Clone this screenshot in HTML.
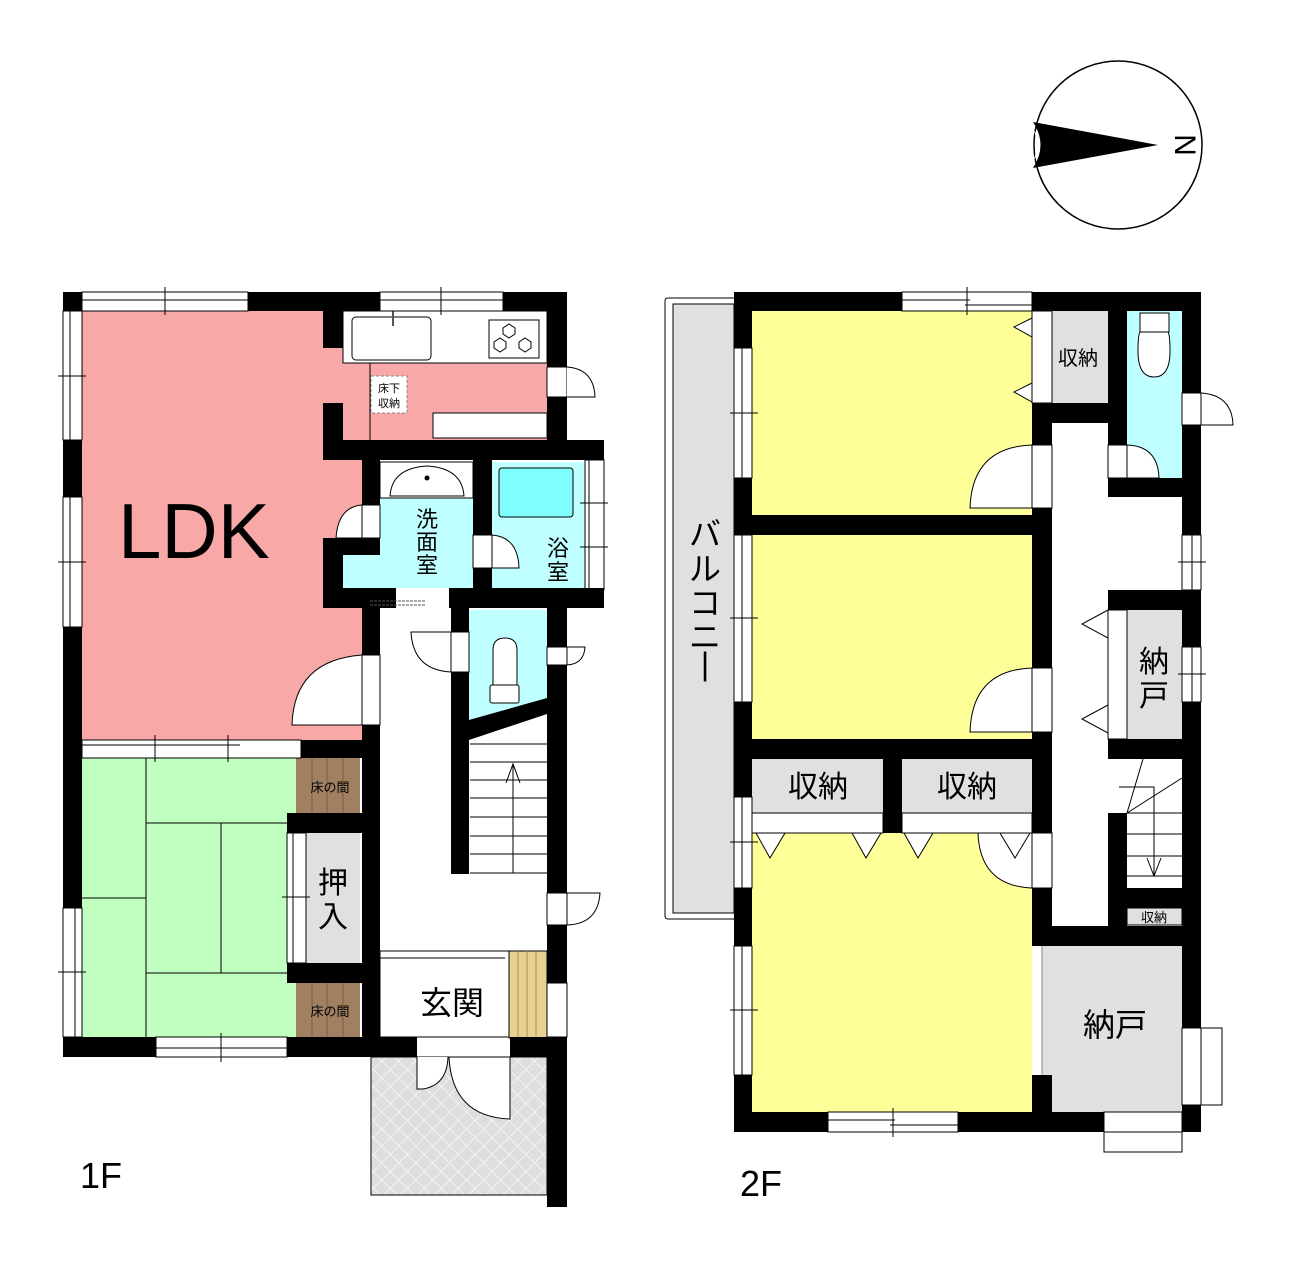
<!DOCTYPE html>
<html><head><meta charset="utf-8"><style>
html,body{margin:0;padding:0;background:#fff}
svg{display:block}
text{font-family:"Liberation Sans","Noto Sans CJK JP",sans-serif}
</style></head><body>
<svg width="1293" height="1264" viewBox="0 0 1293 1264" xmlns="http://www.w3.org/2000/svg">
<defs>
<pattern id="hx" width="12" height="12" patternUnits="userSpaceOnUse" patternTransform="rotate(45)">
<rect width="12" height="12" fill="#dedede"/>
<path d="M0 0H12M0 0V12" stroke="#fff" stroke-width="1.2"/>
</pattern>
</defs>

<!-- ================= COMPASS ================= -->
<circle cx="1118" cy="145" r="84" fill="#fff" stroke="#000" stroke-width="1.5"/>
<path d="M1033 122 L1158 145 L1033 168 Q1048 145 1033 122Z" fill="#000"/>
<path d="M1033 128 Q1044 145 1033 162 Q1040 145 1033 128Z" fill="#fff"/>
<text x="1183" y="145" font-size="30" transform="rotate(90 1183 145)" text-anchor="middle" dominant-baseline="middle">N</text>

<!-- ================= 1F ================= -->
<path d="M82 311 H323 V348 H343 V363 H547 V440 H362 V740 H82Z" fill="#f9a8a8"/>
<rect x="343" y="311" width="204" height="52" fill="#fff" stroke="#000" stroke-width="1"/>
<rect x="352" y="317" width="79" height="43" rx="4" fill="#fff" stroke="#000" stroke-width="1"/>
<line x1="393" y1="311" x2="393" y2="326" stroke="#555" stroke-width="2"/>
<rect x="489" y="320" width="50" height="38" fill="#fff" stroke="#000" stroke-width="1"/>
<polygon points="503,328 509,324 515,328 515,334 509,338 503,334" fill="#fff" stroke="#000"/>
<polygon points="494,342 500,338 506,342 506,348 500,352 494,348" fill="#fff" stroke="#000"/>
<polygon points="519,342 525,338 531,342 531,348 525,352 519,348" fill="#fff" stroke="#000"/>
<line x1="370" y1="363" x2="370" y2="440" stroke="#000" stroke-width="1"/>
<rect x="371" y="376" width="36" height="37" fill="#fff" stroke="#888" stroke-dasharray="3 2"/>
<text x="389" y="392" font-size="11" text-anchor="middle">床下</text>
<text x="389" y="407" font-size="11" text-anchor="middle">収納</text>
<rect x="433" y="413" width="114" height="25" fill="#fff" stroke="#000"/>

<path d="M380 462 H473 V588 H343 V555 H380Z" fill="#c0ffff"/>
<rect x="380" y="462" width="93" height="36" fill="#fff" stroke="#000" stroke-width="1"/>
<path d="M390 496 Q392 468 427 466 Q462 468 464 496Z" fill="#fff" stroke="#000"/>
<circle cx="427" cy="478" r="2.5" fill="#000"/>
<rect x="492" y="462" width="93" height="126" fill="#c0ffff"/>
<rect x="499" y="468" width="74" height="49" rx="3" fill="#80ffff" stroke="#000"/>
<rect x="585" y="460" width="19" height="130" fill="#fff" stroke="#000"/>
<line x1="589" y1="460" x2="589" y2="590" stroke="#000"/>
<line x1="580" y1="503" x2="608" y2="503" stroke="#000"/>
<line x1="580" y1="547" x2="608" y2="547" stroke="#000"/>
<path d="M469 610 H547 V700 L469 725Z" fill="#c0ffff"/>
<path d="M493 685 V650 Q493 638 505 638 Q517 638 517 650 V685Z" fill="#fff" stroke="#000"/>
<rect x="490" y="685" width="29" height="18" rx="2" fill="#fff" stroke="#000"/>
<rect x="82" y="758" width="214" height="279" fill="#c0ffc0"/>
<g stroke="#000" stroke-width="1" fill="none">
<line x1="146" y1="758" x2="146" y2="1037"/>
<line x1="146" y1="823" x2="287" y2="823"/>
<line x1="82" y1="898" x2="146" y2="898"/>
<line x1="146" y1="973" x2="287" y2="973"/>
<line x1="221" y1="823" x2="221" y2="973"/>
</g>
<rect x="296" y="758" width="64" height="55" fill="#a08060"/>
<rect x="296" y="983" width="64" height="54" fill="#a08060"/>
<g stroke="#7a6048" stroke-width="1">
<line x1="312" y1="758" x2="312" y2="813"/><line x1="327" y1="758" x2="327" y2="813"/><line x1="343" y1="758" x2="343" y2="813"/>
<line x1="312" y1="983" x2="312" y2="1037"/><line x1="327" y1="983" x2="327" y2="1037"/><line x1="343" y1="983" x2="343" y2="1037"/>
</g>
<text x="330" y="792" font-size="13" text-anchor="middle">床の間</text>
<text x="330" y="1016" font-size="13" text-anchor="middle">床の間</text>
<rect x="306" y="833" width="54" height="130" fill="#e0e0e0"/>
<rect x="287" y="833" width="19" height="130" fill="#fff" stroke="#000"/>
<line x1="293" y1="833" x2="293" y2="963" stroke="#000"/>
<line x1="282" y1="897" x2="310" y2="897" stroke="#000"/>
<text x="333" y="893" font-size="30" text-anchor="middle">押</text>
<text x="333" y="927" font-size="30" text-anchor="middle">入</text>
<rect x="82" y="740" width="219" height="18" fill="#fff" stroke="#000"/>
<line x1="82" y1="745" x2="240" y2="745" stroke="#000"/>
<line x1="155" y1="735" x2="155" y2="762" stroke="#000"/><line x1="228" y1="735" x2="228" y2="762" stroke="#000"/>

<g stroke="#000" stroke-width="1">
<line x1="470" y1="744" x2="547" y2="744"/>
<line x1="470" y1="762" x2="547" y2="762"/><line x1="470" y1="780" x2="547" y2="780"/>
<line x1="470" y1="798" x2="547" y2="798"/><line x1="470" y1="817" x2="547" y2="817"/>
<line x1="470" y1="836" x2="547" y2="836"/><line x1="470" y1="854" x2="547" y2="854"/>
<line x1="470" y1="873" x2="547" y2="873"/>
<line x1="513" y1="873" x2="513" y2="764"/>
<polyline points="506,783 513,764 520,783" fill="none"/>
</g>
<rect x="380" y="951" width="129" height="86" fill="#fff" stroke="#000"/>
<line x1="380" y1="958" x2="505" y2="958" stroke="#000"/>
<rect x="509" y="951" width="38" height="87" fill="#e8d090" stroke="#000"/>
<g stroke="#a09060"><line x1="518" y1="951" x2="518" y2="1038"/><line x1="527" y1="951" x2="527" y2="1038"/><line x1="536" y1="951" x2="536" y2="1038"/></g>
<text x="452" y="1014" font-size="32" text-anchor="middle">玄関</text>
<rect x="371" y="1057" width="176" height="138" fill="url(#hx)" stroke="#000"/>
<path d="M417 1057 V1089 H423 Q447 1085 448 1057" fill="#fff" stroke="#000"/>
<path d="M510 1057 V1119 Q452 1117 449 1057Z" fill="#fff" stroke="#000"/>

<g fill="#000">
<rect x="63" y="292" width="19" height="148"/>
<rect x="63" y="440" width="19" height="57"/>
<rect x="63" y="627" width="19" height="281"/>
<rect x="63" y="1037" width="93" height="20"/>
<rect x="63" y="292" width="185" height="19"/>
<rect x="248" y="292" width="132" height="19"/>
<rect x="503" y="292" width="64" height="19"/>
<rect x="323" y="311" width="20" height="37"/>
<rect x="323" y="403" width="20" height="55"/>
<rect x="547" y="292" width="20" height="75"/>
<rect x="547" y="397" width="20" height="43"/>
<rect x="323" y="440" width="281" height="20"/>
<rect x="362" y="458" width="18" height="47"/>
<rect x="323" y="538" width="57" height="17"/>
<rect x="323" y="538" width="20" height="70"/>
<rect x="323" y="588" width="73" height="20"/>
<rect x="449" y="588" width="155" height="20"/>
<rect x="473" y="458" width="19" height="77"/>
<rect x="473" y="568" width="19" height="20"/>
<rect x="362" y="608" width="18" height="47"/>
<rect x="362" y="725" width="18" height="332"/>
<rect x="301" y="740" width="79" height="18"/>
<rect x="287" y="813" width="93" height="20"/>
<rect x="287" y="963" width="93" height="20"/>
<rect x="287" y="1037" width="130" height="20"/>
<rect x="510" y="1037" width="57" height="20"/>
<rect x="451" y="608" width="18" height="24"/>
<rect x="451" y="672" width="18" height="202"/>
<polygon points="451,725 547,698 547,714 469,740"/>
<rect x="547" y="608" width="20" height="39"/>
<rect x="547" y="665" width="20" height="228"/>
<rect x="547" y="925" width="20" height="58"/>
<rect x="547" y="1037" width="20" height="170"/>
</g>
<g fill="#fff" stroke="#000" stroke-width="1">
<rect x="82" y="292" width="166" height="19"/><rect x="380" y="292" width="123" height="19"/>
<rect x="63" y="311" width="19" height="129"/><rect x="63" y="497" width="19" height="130"/>
<rect x="63" y="908" width="19" height="129"/>
<rect x="156" y="1037" width="131" height="20"/>
<rect x="547" y="983" width="20" height="54"/>
</g>
<g stroke="#000" stroke-width="1">
<line x1="82" y1="300" x2="248" y2="300"/><line x1="165" y1="287" x2="165" y2="315"/>
<line x1="380" y1="300" x2="503" y2="300"/><line x1="441" y1="287" x2="441" y2="315"/>
<line x1="70" y1="311" x2="70" y2="440"/><line x1="58" y1="376" x2="86" y2="376"/>
<line x1="70" y1="497" x2="70" y2="627"/><line x1="58" y1="562" x2="86" y2="562"/>
<line x1="75" y1="908" x2="75" y2="1037"/><line x1="58" y1="972" x2="86" y2="972"/>
<line x1="156" y1="1048" x2="287" y2="1048"/><line x1="221" y1="1033" x2="221" y2="1062"/>
</g>
<g fill="#fff" stroke="#000" stroke-width="1">
<path d="M547 367 H567 V397 H547Z"/><path d="M567 367 Q594 369 595 397 H567"/>
<path d="M362 505 V538 H336 Q338 507 362 505Z"/><rect x="362" y="505" width="18" height="33"/>
<rect x="473" y="535" width="19" height="33"/><path d="M492 535 Q518 537 519 568 H492Z"/>
<rect x="362" y="655" width="18" height="70"/><path d="M362 655 Q294 660 292 725 H362Z"/>
<rect x="451" y="632" width="18" height="40"/><path d="M451 632 H411 Q413 670 451 672Z"/>
<rect x="547" y="647" width="20" height="18"/><path d="M567 647 H585 Q584 664 567 665Z"/>
<rect x="547" y="893" width="20" height="32"/><path d="M567 893 H600 Q598 924 567 925Z"/>
</g>
<rect x="396" y="588" width="53" height="20" fill="#fff"/>
<line x1="370" y1="601" x2="425" y2="601" stroke="#555" stroke-width="1" stroke-dasharray="3 1"/>
<line x1="370" y1="605" x2="425" y2="605" stroke="#555" stroke-width="1" stroke-dasharray="3 1"/>

<text x="118" y="558" font-size="78">LDK</text>
<text x="427" y="527" font-size="22" text-anchor="middle">洗</text>
<text x="427" y="550" font-size="22" text-anchor="middle">面</text>
<text x="427" y="573" font-size="22" text-anchor="middle">室</text>
<text x="558" y="556" font-size="22" text-anchor="middle">浴</text>
<text x="558" y="580" font-size="22" text-anchor="middle">室</text>
<text x="80" y="1188" font-size="36">1F</text>

<!-- ================= 2F ================= -->
<path d="M734 298 H668 Q665 298 665 301 V916 Q665 919 668 919 H734" fill="#fff" stroke="#000"/>
<rect x="673" y="304" width="61" height="609" fill="#e0e0e0" stroke="#000"/>
<text x="705" y="545" font-size="32" text-anchor="middle">バ</text>
<text x="705" y="580" font-size="32" text-anchor="middle">ル</text>
<text x="705" y="614" font-size="32" text-anchor="middle">コ</text>
<text x="705" y="648" font-size="32" text-anchor="middle">ニ</text>
<text x="705" y="675" font-size="32" text-anchor="middle">|</text>

<rect x="752" y="311" width="280" height="204" fill="#ffff99"/>
<rect x="752" y="535" width="280" height="204" fill="#ffff99"/>
<rect x="752" y="833" width="280" height="279" fill="#ffff99"/>
<rect x="1042" y="946" width="140" height="166" fill="#e0e0e0"/>
<line x1="1042" y1="946" x2="1042" y2="1075" stroke="#888"/>
<rect x="1052" y="311" width="56" height="92" fill="#e0e0e0"/>
<rect x="1032" y="311" width="20" height="92" fill="#fff" stroke="#000"/>
<rect x="1127" y="311" width="55" height="167" fill="#c0ffff"/>
<path d="M1138 351 Q1138 377 1154 377 Q1170 377 1170 351 Q1170 335 1168 332 H1140 Q1138 335 1138 351Z" fill="#fff" stroke="#000"/>
<rect x="1140" y="313" width="29" height="19" fill="#fff" stroke="#000"/>
<rect x="1127" y="610" width="55" height="129" fill="#e0e0e0"/>
<rect x="1108" y="610" width="19" height="129" fill="#fff" stroke="#000"/>
<rect x="752" y="759" width="131" height="54" fill="#e0e0e0"/>
<rect x="902" y="759" width="130" height="54" fill="#e0e0e0"/>
<rect x="752" y="813" width="131" height="20" fill="#fff" stroke="#000"/>
<rect x="902" y="813" width="130" height="20" fill="#fff" stroke="#000"/>
<rect x="1127" y="908" width="55" height="17" fill="#e0e0e0" stroke="#000"/>

<g stroke="#000" stroke-width="1" fill="none">
<line x1="1143" y1="759" x2="1127" y2="813"/>
<line x1="1182" y1="778" x2="1127" y2="813"/>
<polyline points="1119,787 1154,787 1154,875"/>
<line x1="1127" y1="813" x2="1182" y2="813"/>
<line x1="1127" y1="834" x2="1182" y2="834"/>
<line x1="1127" y1="856" x2="1182" y2="856"/>
<line x1="1127" y1="876" x2="1182" y2="876"/>
<polyline points="1147,858 1154,876 1161,858"/>
</g>
<g fill="#fff" stroke="#000" stroke-width="1">
<polygon points="1032,318 1014,327 1032,337"/>
<polygon points="1032,383 1014,392 1032,402"/>
<polygon points="1108,610 1082,624 1108,638"/>
<polygon points="1108,705 1082,719 1108,733"/>
<polygon points="756,833 770,858 785,833"/>
<polygon points="852,833 866,858 881,833"/>
<polygon points="904,833 918,858 933,833"/>
</g>

<g fill="#000">
<rect x="734" y="292" width="168" height="19"/>
<rect x="1032" y="292" width="169" height="19"/>
<rect x="734" y="292" width="18" height="56"/>
<rect x="734" y="478" width="18" height="57"/>
<rect x="734" y="702" width="18" height="95"/>
<rect x="734" y="888" width="18" height="58"/>
<rect x="734" y="1075" width="18" height="57"/>
<rect x="734" y="515" width="318" height="20"/>
<rect x="734" y="739" width="318" height="20"/>
<rect x="883" y="759" width="19" height="74"/>
<rect x="1032" y="403" width="76" height="20"/>
<rect x="1108" y="311" width="19" height="134"/>
<rect x="1032" y="423" width="20" height="22"/>
<rect x="1032" y="508" width="20" height="160"/>
<rect x="1032" y="732" width="20" height="101"/>
<rect x="1032" y="888" width="20" height="58"/>
<rect x="1032" y="926" width="169" height="20"/>
<rect x="1108" y="478" width="93" height="19"/>
<rect x="1182" y="292" width="19" height="101"/>
<rect x="1182" y="425" width="19" height="110"/>
<rect x="1108" y="590" width="93" height="20"/>
<rect x="1182" y="590" width="19" height="57"/>
<rect x="1182" y="702" width="19" height="326"/>
<rect x="1108" y="739" width="93" height="20"/>
<rect x="1108" y="813" width="19" height="113"/>
<rect x="1108" y="888" width="93" height="20"/>
<rect x="1032" y="1075" width="20" height="57"/>
<rect x="734" y="1112" width="94" height="20"/>
<rect x="958" y="1112" width="146" height="20"/>
<rect x="1182" y="1105" width="19" height="27"/>
</g>
<g fill="#fff" stroke="#000" stroke-width="1">
<rect x="902" y="292" width="130" height="19"/>
<rect x="734" y="348" width="18" height="130"/>
<rect x="734" y="535" width="18" height="167"/>
<rect x="734" y="797" width="18" height="91"/>
<rect x="734" y="946" width="18" height="129"/>
<rect x="828" y="1112" width="130" height="20"/>
<rect x="1104" y="1112" width="78" height="20"/>
<rect x="1104" y="1132" width="78" height="20"/>
<rect x="1182" y="535" width="19" height="55"/>
<rect x="1182" y="647" width="19" height="55"/>
<rect x="1182" y="1028" width="19" height="77"/>
<rect x="1201" y="1028" width="21" height="77"/>
</g>
<g stroke="#000" stroke-width="1">
<line x1="902" y1="300" x2="970" y2="300"/><line x1="965" y1="305" x2="1032" y2="305"/><line x1="967" y1="287" x2="967" y2="315"/>
<line x1="742" y1="348" x2="742" y2="478"/><line x1="730" y1="413" x2="758" y2="413"/>
<line x1="742" y1="535" x2="742" y2="702"/><line x1="730" y1="618" x2="758" y2="618"/>
<line x1="742" y1="797" x2="742" y2="888"/><line x1="730" y1="842" x2="758" y2="842"/>
<line x1="742" y1="946" x2="742" y2="1075"/><line x1="730" y1="1010" x2="758" y2="1010"/>
<line x1="828" y1="1120" x2="895" y2="1120"/><line x1="890" y1="1125" x2="958" y2="1125"/><line x1="893" y1="1108" x2="893" y2="1137"/>
<line x1="1192" y1="535" x2="1192" y2="590"/><line x1="1178" y1="562" x2="1206" y2="562"/>
<line x1="1192" y1="647" x2="1192" y2="702"/><line x1="1178" y1="674" x2="1206" y2="674"/>
</g>
<g fill="#fff" stroke="#000" stroke-width="1">
<rect x="1032" y="445" width="20" height="63"/><path d="M1032 445 Q972 447 970 508 H1032Z"/>
<rect x="1032" y="668" width="20" height="64"/><path d="M1032 668 Q972 670 970 732 H1032Z"/>
<rect x="1032" y="833" width="20" height="55"/><path d="M1032 888 Q980 886 978 833 H1032Z"/>
<rect x="1108" y="445" width="19" height="33"/><path d="M1127 445 Q1158 446 1159 478 H1127Z"/>
<rect x="1182" y="393" width="19" height="32"/><path d="M1201 393 Q1232 395 1233 425 H1201Z"/>
</g>
<polygon points="1000,833 1015,858 1030,833" fill="#fff" stroke="#000"/>

<text x="1078" y="365" font-size="20" text-anchor="middle">収納</text>
<text x="1154" y="672" font-size="30" text-anchor="middle">納</text>
<text x="1154" y="706" font-size="30" text-anchor="middle">戸</text>
<text x="818" y="797" font-size="30" text-anchor="middle">収納</text>
<text x="967" y="797" font-size="30" text-anchor="middle">収納</text>
<text x="1154" y="922" font-size="13" text-anchor="middle">収納</text>
<text x="1115" y="1036" font-size="32" text-anchor="middle">納戸</text>
<text x="740" y="1196" font-size="36">2F</text>
</svg>
</body></html>
